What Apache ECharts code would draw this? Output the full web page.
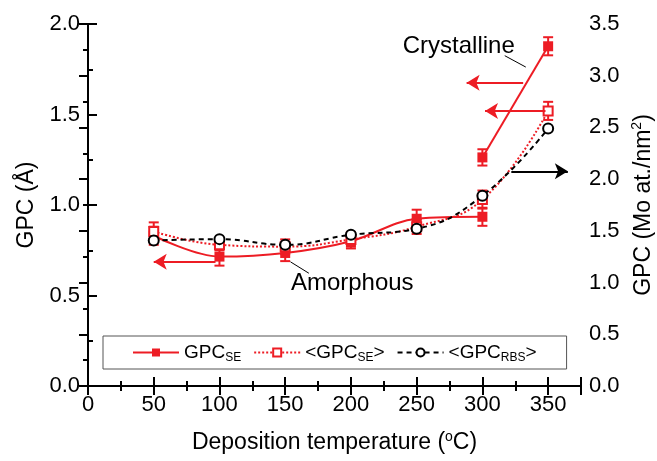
<!DOCTYPE html>
<html>
<head>
<meta charset="utf-8">
<script src="https://cdn.jsdelivr.net/npm/echarts@6/dist/echarts.min.js"></script>
<style>
  html, body { margin: 0; padding: 0; background: #fff; }
  #chart { width: 657px; height: 461px; }
</style>
</head>
<body>
<div id="chart"></div>
<script>
// data
const temps = [50, 100, 150, 200, 250, 300, 350];
const seAmorphous = [0.83, 0.715, 0.735, 0.80, 0.924, 0.935];   // 50..300
const seAmorphousErr = [0.05, 0.05, 0.045, 0.04, 0.05, 0.05];
const seCrystTemps = [300, 350];
const seCrystalline = [1.263, 1.877];
const seCrystallineErr = [0.045, 0.05];
const seMean = [0.854, 0.78, 0.77, 0.81, 0.88, 1.03, 1.52];
const seMeanErr = [0.05, 0.03, 0.04, 0.04, 0.04, 0.05, 0.05];
const rbs = [1.407, 1.42, 1.365, 1.462, 1.52, 1.84, 2.49];       // right axis
const xTicks = [0, 50, 100, 150, 200, 250, 300, 350];

const RED = '#ed1c24';
const FONT = 'Liberation Sans, Arial, sans-serif';

function pairs(xs, ys) { return xs.map((x, i) => [x, ys[i]]); }
function errRows(xs, ys, es) { return xs.map((x, i) => [x, ys[i] - es[i], ys[i] + es[i]]); }

function renderErr(params, api) {
  const x = api.value(0);
  const lo = api.coord([x, api.value(1)]);
  const hi = api.coord([x, api.value(2)]);
  const w = 5;
  const style = { stroke: RED, lineWidth: 2 };
  return {
    type: 'group',
    children: [
      { type: 'line', shape: { x1: lo[0], y1: lo[1], x2: hi[0], y2: hi[1] }, style },
      { type: 'line', shape: { x1: lo[0] - w, y1: lo[1], x2: lo[0] + w, y2: lo[1] }, style },
      { type: 'line', shape: { x1: hi[0] - w, y1: hi[1], x2: hi[0] + w, y2: hi[1] }, style }
    ]
  };
}

const supRich = { sup: { fontSize: 14, fontFamily: FONT, color: '#000', verticalAlign: 'top', padding: [0, 0, 12, 0] } };

const axisCommon = {
  axisLine: { lineStyle: { color: '#000', width: 2 } },
  axisTick: { inside: true, length: 9, lineStyle: { color: '#000', width: 2 } },
  minorTick: { show: true, splitNumber: 2, length: 5, lineStyle: { color: '#000', width: 2 } },
  splitLine: { show: false },
  axisLabel: { color: '#000', fontSize: 22, fontFamily: FONT, margin: 8 },
  nameTextStyle: { color: '#000', fontSize: 23, fontFamily: FONT }
};

const chart = echarts.init(document.getElementById('chart'));

chart.setOption({
  animation: false,
  backgroundColor: '#fff',
  grid: { left: 88, right: 76, top: 24, bottom: 75, containLabel: false, outerBoundsMode: 'none' },
  xAxis: [
    Object.assign({}, axisCommon, {
      type: 'value', min: 0, max: 375, interval: 50, position: 'bottom',
      name: 'Deposition temperature ({sup|o}C)', nameLocation: 'middle', nameGap: 44,
      nameTextStyle: Object.assign({}, axisCommon.nameTextStyle, { rich: supRich }),
      axisLabel: Object.assign({}, axisCommon.axisLabel, {
        formatter: v => (xTicks.indexOf(v) >= 0 ? String(v) : '')
      })
    }),
    Object.assign({}, axisCommon, {
      type: 'value', min: 0, max: 375, interval: 50, position: 'top',
      axisLabel: { show: false }
    })
  ],
  yAxis: [
    Object.assign({}, axisCommon, {
      type: 'value', min: 0, max: 2, interval: 0.5, position: 'left',
      name: 'GPC (Å)', nameLocation: 'middle', nameGap: 50,
      axisLabel: Object.assign({}, axisCommon.axisLabel, { formatter: v => v.toFixed(1) })
    }),
    Object.assign({}, axisCommon, {
      type: 'value', min: 0, max: 3.5, interval: 0.5, position: 'right',
      name: 'GPC (Mo at./nm{sup|2})', nameLocation: 'middle', nameGap: 49, nameRotate: 90,
      nameTextStyle: Object.assign({}, axisCommon.nameTextStyle, { rich: supRich }),
      axisLabel: Object.assign({}, axisCommon.axisLabel, { formatter: v => v.toFixed(1) })
    })
  ],
  legend: {
    left: 103, top: 336,
    padding: [5, 30, 5, 29],
    borderColor: '#555', borderWidth: 1, backgroundColor: '#fff',
    itemWidth: 46, itemHeight: 10, itemGap: 12,
    data: ['GPC_SE', '<GPC_SE>', '<GPC_RBS>'],
    formatter: function (name) {
      if (name === 'GPC_SE') return '{m|GPC}{s|SE}';
      if (name === '<GPC_SE>') return '{m|<GPC}{s|SE}{m|>}';
      return '{m|<GPC}{s|RBS}{m|>}';
    },
    textStyle: {
      color: '#000',
      rich: {
        m: { fontSize: 19, fontFamily: FONT, color: '#000', lineHeight: 24 },
        s: { fontSize: 12, fontFamily: FONT, color: '#000', padding: [11, 0, 0, 0], lineHeight: 24 }
      }
    }
  },
  series: [
    {
      type: 'custom', name: 'errSE', renderItem: renderErr, z: 1, silent: true,
      encode: { x: 0, y: [1, 2] },
      data: errRows(temps.slice(0, 6), seAmorphous, seAmorphousErr)
        .concat(errRows(seCrystTemps, seCrystalline, seCrystallineErr))
    },
    {
      type: 'custom', name: 'errMean', renderItem: renderErr, z: 1, silent: true,
      encode: { x: 0, y: [1, 2] },
      data: errRows(temps, seMean, seMeanErr)
    },
    {
      type: 'line', name: 'GPC_SE', smooth: 0.35, z: 3,
      data: pairs(temps.slice(0, 6), seAmorphous),
      symbol: 'rect', symbolSize: 10,
      itemStyle: { color: RED },
      lineStyle: { color: RED, width: 2 },
      markLine: {
        silent: true, symbol: ['none', 'arrow'], symbolSize: [12, 13],
        label: { show: false },
        lineStyle: { color: RED, width: 2, type: 'solid' },
        data: [
          [{ coord: [97, 0.686] }, { coord: [50, 0.686] }],
          [{ coord: [331, 1.675] }, { coord: [288, 1.675] }],
          [{ coord: [348, 1.52] }, { coord: [302, 1.52] }],
          [{ coord: [322, 1.186], lineStyle: { color: '#000' } }, { coord: [365, 1.186] }]
        ]
      }
    },
    {
      type: 'line', name: 'GPC_SE', z: 3,
      data: pairs(seCrystTemps, seCrystalline),
      symbol: 'rect', symbolSize: 10,
      itemStyle: { color: RED },
      lineStyle: { color: RED, width: 2 },
      markLine: {
        silent: true, symbol: ['none', 'none'],
        label: { show: false },
        lineStyle: { color: '#000', width: 1, type: 'solid' },
        data: [
          [{ coord: [317, 1.825] }, { coord: [333, 1.762] }],
          [{ coord: [154, 0.686] }, { coord: [168, 0.623] }]
        ]
      },
      markPoint: {
        silent: true, symbol: 'circle', symbolSize: 0,
        label: { show: true, position: 'inside', color: '#000', fontSize: 24, fontFamily: FONT },
        data: [
          { coord: [282, 1.875], value: 'Crystalline', label: { formatter: 'Crystalline' } },
          { coord: [201, 0.565], value: 'Amorphous', label: { formatter: 'Amorphous' } }
        ]
      }
    },
    {
      type: 'line', name: '<GPC_SE>', smooth: 0.45, z: 4,
      data: pairs(temps, seMean),
      symbol: 'emptyRect', symbolSize: 9,
      itemStyle: { color: RED, borderColor: RED, borderWidth: 2 },
      lineStyle: { color: RED, width: 2, type: [2, 2] }
    },
    {
      type: 'line', name: '<GPC_RBS>', smooth: 0.45, z: 5, yAxisIndex: 1,
      data: pairs(temps, rbs),
      symbol: 'emptyCircle', symbolSize: 10,
      itemStyle: { color: '#000', borderColor: '#000', borderWidth: 2 },
      lineStyle: { color: '#000', width: 2, type: [5, 4] }
    }
  ]
});
</script>
</body>
</html>
